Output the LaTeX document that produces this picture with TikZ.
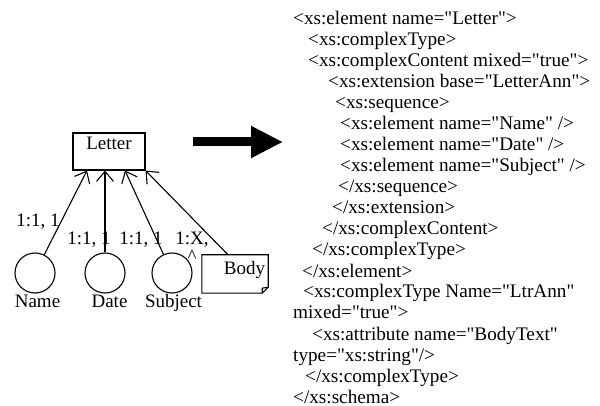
\documentclass[tikz,border=0pt]{standalone}
\usepackage{fontspec}
\setmainfont{Liberation Serif}[Ligatures=TeXOff]
\usetikzlibrary{arrows.meta}

\begin{document}
\begin{tikzpicture}[x=1pt, y=-1pt, >={Straight Barb[length=10pt,width=17pt]},
    every node/.style={inner sep=0pt, font=\fontsize{19}{21}\selectfont},
    elem/.style={draw, circle, line width=1.1pt, minimum size=40pt},
    card/.style={anchor=base},
    code/.style={anchor=base west, font=\fontsize{19.2}{21}\selectfont}]
    \useasboundingbox (0,0) rectangle (600,406);
    % root element
    \node[draw, line width=1.1pt, minimum width=72pt, text height=17pt, text depth=20pt] (letter) at (109,151.5) {Letter};
    % child elements
    \node[elem] (name) at (35,273) {};
    \node[elem] (date) at (105,273) {};
    \node[elem] (subject) at (172,273) {};
    \node[card] (namelbl) at (37.5,308) {Name};
    \node[card] (datelbl) at (109.5,308) {Date};
    \node[card] (subjectlbl) at (173.5,308) {Subject};
    % mixed content, note with folded corner
    \node[text width=60pt, align=right, inner xsep=3pt, text height=20pt, text depth=18pt] (body) at (235,274) {Body};
    \draw[line width=1.1pt] (body.north west) -- (body.north east) -- ([yshift=6pt]body.south east)
        -- ([xshift=-6pt]body.south east) -- (body.south west) -- cycle;
    \draw[line width=1.1pt] ([xshift=-6pt]body.south east) -- ([xshift=-6pt,yshift=5pt]body.south east)
        -- ([yshift=6pt]body.south east);
    % connectors to the root
    \draw[->, line width=1.1pt] (name) -- ([xshift=-22pt]letter.south);
    \draw[->, line width=1.1pt] (date) -- ([xshift=-4pt]letter.south);
    \draw[->, line width=1.1pt] (subject) -- ([xshift=16pt]letter.south);
    \draw[->, line width=1.1pt] ([xshift=-7pt]body.north) -- (letter.south east);
    % cardinalities
    \node[card] (cardname) at (38,227) {1:1, 1};
    \node[card] (carddate) at (89,245) {1:1, 1};
    \node[card] (cardsubject) at (141,245) {1:1, 1};
    \node[card] (cardbody) at (192,245) {1:X,};
    \node[card] (caret) at (192,263) {\textasciicircum};
    % mapping arrow
    \coordinate (maptail) at (193,142);
    \coordinate (maptip) at (283,142);
    \draw[line width=9pt, -{Triangle[length=32pt,width=30pt]}] (maptail) -- (maptip);
    % schema text
    \node[code] (l1) at (293,25) {<xs:element name="Letter">};
    \node[code] (l2) at (308,46) {<xs:complexType>};
    \node[code] (l3) at (308,67) {<xs:complexContent mixed="true">};
    \node[code] (l4) at (328,88) {<xs:extension base="LetterAnn">};
    \node[code] (l5) at (335,109) {<xs:sequence>};
    \node[code] (l6) at (340,130) {<xs:element name="Name" />};
    \node[code] (l7) at (340,151) {<xs:element name="Date" />};
    \node[code] (l8) at (340,172) {<xs:element name="Subject" />};
    \node[code] (l9) at (338,193) {</xs:sequence>};
    \node[code] (l10) at (332,214) {</xs:extension>};
    \node[code] (l11) at (322,235) {</xs:complexContent>};
    \node[code] (l12) at (312,256) {</xs:complexType>};
    \node[code] (l13) at (302,277) {</xs:element>};
    \node[code] (l14) at (303,298) {<xs:complexType Name="LtrAnn"};
    \node[code] (l15) at (293,319) {mixed="true">};
    \node[code] (l16) at (312,340) {<xs:attribute name="BodyText"};
    \node[code] (l17) at (293,361) {type="xs:string"/>};
    \node[code] (l18) at (305,382) {</xs:complexType>};
    \node[code] (l19) at (293,403) {</xs:schema>};
\end{tikzpicture}
\end{document}
